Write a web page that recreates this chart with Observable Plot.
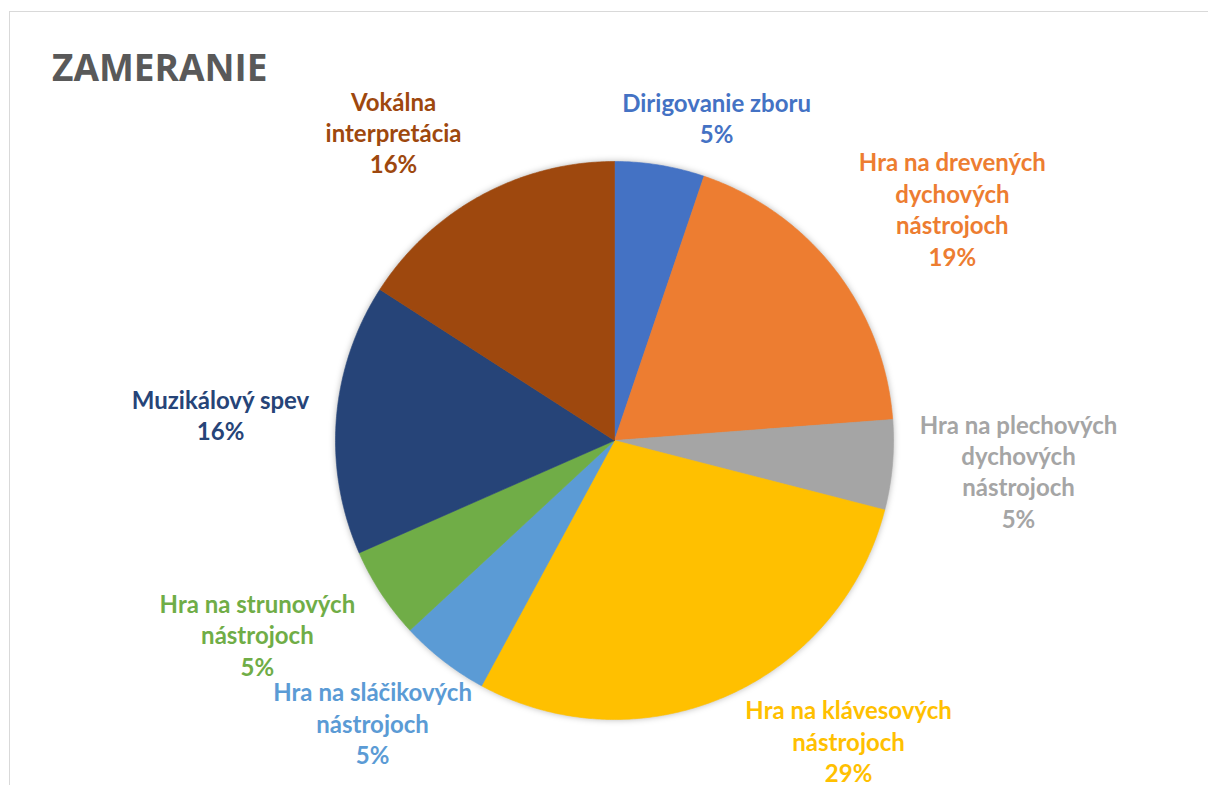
<!DOCTYPE html>
<html><head><meta charset="utf-8">
<script src="https://cdn.jsdelivr.net/npm/d3@7"></script>
<script src="https://cdn.jsdelivr.net/npm/@observablehq/plot@0.6"></script>
<style>
html,body{margin:0;padding:0;background:#fff;}
body{width:1208px;height:785px;position:relative;overflow:hidden;}
#frame{position:absolute;left:9px;top:11px;width:1400px;height:1000px;border:1px solid #d9d9d9;box-sizing:border-box;}
#title{position:absolute;left:52px;top:48px;font:bold 37px "Open Sans";color:#595959;line-height:1;white-space:nowrap;}
#chart{position:absolute;left:0;top:88px;}
.pie{filter:drop-shadow(0 0 3px rgba(0,0,0,0.28));}
</style></head><body>
<div id="frame"></div>
<div id="title">ZAMERANIE</div>
<div id="chart"></div>
<script>
// ---- data ----
const categories = [
  "Dirigovanie zboru",
  "Hra na drevených dychových nástrojoch",
  "Hra na plechových dychových nástrojoch",
  "Hra na klávesových nástrojoch",
  "Hra na sláčikových nástrojoch",
  "Hra na strunových nástrojoch",
  "Muzikálový spev",
  "Vokálna interpretácia"
];
const values = [5.2, 18.6, 5.2, 28.9, 5.2, 5.3, 15.7, 15.9];
const colors = ["#4472C4", "#ED7D31", "#A5A5A5", "#FFC000", "#5B9BD5", "#70AD47", "#264478", "#9E480E"];

// ---- layout: label centres relative to pie centre, in pie radii ----
const labelOffsets = [
  [0.366, 1.158], [1.211, 0.832], [1.448, -0.108], [0.839, -1.076],
  [-0.867, -1.011], [-1.280, -0.694], [-1.412, 0.094], [-0.792, 1.106]
];

const W = 1208, H = 697, CX = 614, CY = 352, R = 279;

function wrap(s, max) {
  const words = s.split(" "), lines = [];
  let cur = "";
  for (const w of words) {
    if (cur && (cur + " " + w).length > max) { lines.push(cur); cur = w; }
    else cur = cur ? cur + " " + w : w;
  }
  if (cur) lines.push(cur);
  return lines.join("\n");
}

const total = d3.sum(values);
let acc = 0;
const slices = categories.map((cat, i) => {
  const a0 = acc / total * 2 * Math.PI;
  acc += values[i];
  const a1 = acc / total * 2 * Math.PI;
  return {cat, a0, a1, value: values[i]};
});
const pts = slices.flatMap(s => {
  const n = Math.max(2, Math.ceil((s.a1 - s.a0) / (Math.PI / 360)));
  const arc = d3.range(n + 1).map(k => s.a0 + (s.a1 - s.a0) * k / n);
  return [{cat: s.cat, x: 0, y: 0},
    ...arc.map(a => ({cat: s.cat, x: Math.sin(a), y: Math.cos(a)})),
    {cat: s.cat, x: 0, y: 0}];
});
const pct = d3.format(".0%");
const labels = slices.map((s, i) => ({
  cat: s.cat,
  x: labelOffsets[i][0],
  y: labelOffsets[i][1],
  text: wrap(s.cat, 18) + "\n" + pct(s.value / total)
}));

const chart = Plot.plot({
  width: W, height: H,
  margin: 0,
  x: {domain: [-CX / R, (W - CX) / R], range: [0, W], axis: null},
  y: {domain: [(CY - H) / R, CY / R], range: [H, 0], axis: null},
  color: {domain: categories, range: colors},
  marks: [
    Plot.line(pts, {x: "x", y: "y", z: "cat", fill: "cat", stroke: "cat", strokeWidth: 0.6, curve: "linear", className: "pie"}),
    Plot.text(labels, {x: "x", y: "y", text: "text", fill: "cat", fontSize: 24, fontWeight: "bold",
      fontFamily: "Lato", lineHeight: 1.31, textAnchor: "middle", lineAnchor: "middle"})
  ]
});
document.getElementById("chart").appendChild(chart);
</script>
</body></html>
